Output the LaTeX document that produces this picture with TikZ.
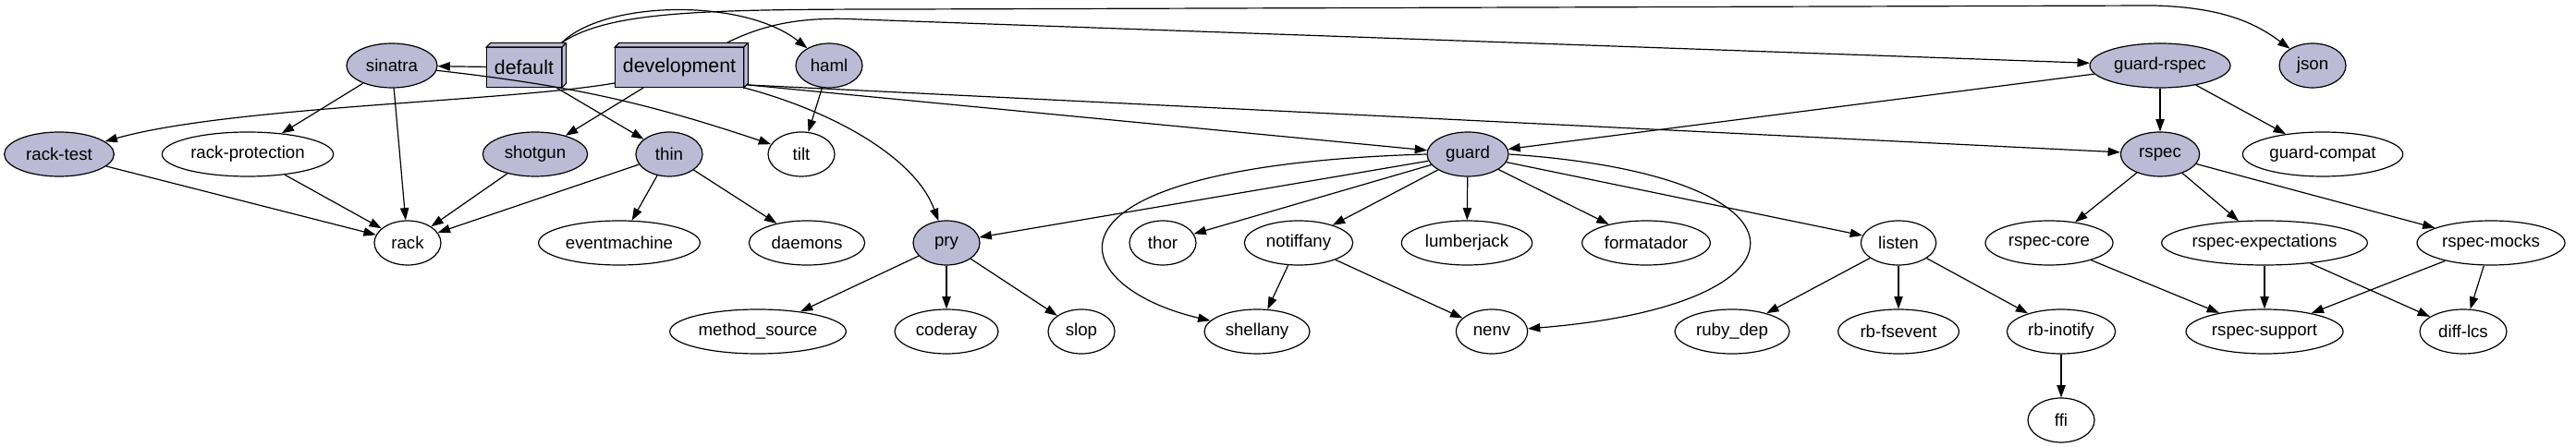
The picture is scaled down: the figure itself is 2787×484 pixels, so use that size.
\documentclass[tikz,border=0pt]{standalone}
\usepackage{fontspec}
\setmainfont{Liberation Sans}
\usetikzlibrary{arrows.meta, shapes.geometric, calc, backgrounds}
\definecolor{gemfill}{HTML}{BBBBD6}
\newcommand{\groupdepth}[1]{%
  \filldraw[grpline] (#1.north west) -- ++(3.5pt,3.5pt) -- ($(#1.north east)+(3.5pt,3.5pt)$)%
    -- ($(#1.south east)+(3.5pt,3.5pt)$) -- (#1.south east) -- (#1.north east) -- cycle;%
  \draw[grpline] (#1.north east) -- ++(3.5pt,3.5pt);%
}

\begin{document}
\begin{tikzpicture}[x=0.75pt, y=0.75pt, font=\fontsize{14}{16}\selectfont]
  \tikzset{el/.style={ellipse, draw, line width=0.9pt, fill=white, minimum height=36pt, inner sep=0pt}};
  \tikzset{gem/.style={el, fill=gemfill}};
  \tikzset{grp/.style={rectangle, draw, fill=gemfill, line width=0.9pt, minimum height=32pt, inner sep=0pt, font=\fontsize{16}{18}\selectfont}};
  \tikzset{grpline/.style={line width=0.9pt, fill=gemfill}};
  \tikzset{dep/.style={-{Triangle[length=10pt, width=7pt]}, line width=0.9pt}};

  \useasboundingbox (0,0) rectangle (2787,-484);

  % groups
  \node[grp, minimum width=60.5pt] (default) at (567,-73) {default};
  \node[grp, minimum width=103.7pt] (development) at (735,-73) {development};
  \groupdepth{default}
  \groupdepth{development}

  % row 1
  \node[gem, minimum width=73.5pt] (sinatra) at (424,-71) {sinatra};
  \node[gem, minimum width=54pt] (haml) at (897,-71) {haml};
  \node[gem, minimum width=114pt] (guardrspec) at (2337,-71) {guard-rspec};
  \node[gem, minimum width=54pt] (json) at (2502,-71) {json};

  % row 2
  \node[gem, minimum width=89pt] (racktest) at (64,-167) {rack-test};
  \node[el, minimum width=139pt] (rackprot) at (268,-167) {rack-protection};
  \node[gem, minimum width=85pt] (shotgun) at (579,-167) {shotgun};
  \node[gem, minimum width=54pt] (thin) at (724,-167) {thin};
  \node[el, minimum width=54pt] (tilt) at (867,-167) {tilt};
  \node[gem, minimum width=66pt] (guard) at (1588,-167) {guard};
  \node[gem, minimum width=64pt] (rspec) at (2337,-167) {rspec};
  \node[el, minimum width=130pt] (guardcompat) at (2513,-167) {guard-compat};

  % row 3
  \node[el, minimum width=54pt] (rack) at (441,-263) {rack};
  \node[el, minimum width=131pt] (eventmachine) at (670,-263) {eventmachine};
  \node[el, minimum width=94pt] (daemons) at (873,-263) {daemons};
  \node[gem, minimum width=54pt] (pry) at (1024,-263) {pry};
  \node[el, minimum width=54pt] (thor) at (1258,-263) {thor};
  \node[el, minimum width=88pt] (notiffany) at (1405,-263) {notiffany};
  \node[el, minimum width=106pt] (lumberjack) at (1587,-263) {lumberjack};
  \node[el, minimum width=104pt] (formatador) at (1781,-263) {formatador};
  \node[el, minimum width=61pt] (listen) at (2054,-263) {listen};
  \node[el, minimum width=103.5pt] (rspeccore) at (2217,-263) {rspec-core};
  \node[el, minimum width=167pt] (rspecexp) at (2450,-263) {rspec-expectations};
  \node[el, minimum width=120pt] (rspecmocks) at (2695,-263) {rspec-mocks};

  % row 4
  \node[el, minimum width=143pt] (methodsource) at (820,-359) {method\_source};
  \node[el, minimum width=84pt] (coderay) at (1024,-359) {coderay};
  \node[el, minimum width=54pt] (slop) at (1170,-359) {slop};
  \node[el, minimum width=85.5pt] (shellany) at (1360,-359) {shellany};
  \node[el, minimum width=58pt] (nenv) at (1614,-359) {nenv};
  \node[el, minimum width=93pt] (rubydep) at (1874,-359) {ruby\_dep};
  \node[el, minimum width=98pt] (rbfsevent) at (2054,-359) {rb-fsevent};
  \node[el, minimum width=88pt] (rbinotify) at (2230,-359) {rb-inotify};
  \node[el, minimum width=127.5pt] (rspecsupport) at (2450,-359) {rspec-support};
  \node[el, minimum width=70.5pt] (difflcs) at (2665,-359) {diff-lcs};

  % row 5
  \node[el, minimum width=54pt] (ffi) at (2230,-455) {ffi};

  % default
  \draw[dep] (default) -- (sinatra);
  \draw[dep] ($(default.south east)+(-6,0)$) -- (thin);
  \draw[dep] ($(default.north east)+(0,5)$) .. controls (655,0) and (805,2) .. (haml);
  \draw[dep] ($(default.north east)+(0,5)$) .. controls (660,-12) and (760,-10) .. (980,-10)
    -- (2330,-6) .. controls (2405,-8) and (2440,-25) .. (json);

  % development
  \draw[dep] ($(development.south west)+(0,5)$) .. controls (550,-110) and (250,-115) .. (racktest);
  \draw[dep] ($(development.south west)+(31,0)$) -- (shotgun);
  \draw[dep] (development.south east) .. controls (900,-120) and (990,-170) .. (pry);
  \draw[dep] ($(development.south east)+(4,3)$) -- (guard);
  \draw[dep] ($(development.south east)+(4,3)$) -- (rspec);
  \draw[dep] ($(development.north east)+(-18,5)$) .. controls (830,-25) and (870,-18) .. (930,-21) -- (guardrspec);

  % sinatra, haml, thin
  \draw[dep] (sinatra) -- (rackprot);
  \draw[dep] (sinatra) -- (rack);
  \draw[dep] (sinatra) to[bend left=6] (tilt);
  \draw[dep] (haml) -- (tilt);
  \draw[dep] (racktest) -- (rack);
  \draw[dep] (rackprot) -- (rack);
  \draw[dep] (shotgun) -- (rack);
  \draw[dep] (thin) -- (rack);
  \draw[dep] (thin) -- (eventmachine);
  \draw[dep] (thin) -- (daemons);

  % pry
  \draw[dep] (pry) -- (methodsource);
  \draw[dep] (pry) -- (coderay);
  \draw[dep] (pry) -- (slop);

  % guard
  \draw[dep] (guard) -- (pry);
  \draw[dep] (guard) -- (thor);
  \draw[dep] (guard) -- (notiffany);
  \draw[dep] (guard) -- (lumberjack);
  \draw[dep] (guard) -- (formatador);
  \draw[dep] (guard) -- (listen);
  \draw[dep] (guard.west) .. controls (1100,-180) and (1150,-310) .. (shellany);
  \draw[dep] (guard.east) .. controls (1975,-190) and (1975,-330) .. (nenv);
  \draw[dep] (notiffany) -- (shellany);
  \draw[dep] (notiffany) -- (nenv);

  % listen
  \draw[dep] (listen) -- (rubydep);
  \draw[dep] (listen) -- (rbfsevent);
  \draw[dep] (listen) -- (rbinotify);
  \draw[dep] (rbinotify) -- (ffi);

  % guard-rspec, rspec
  \draw[dep] (guardrspec) -- (guard);
  \draw[dep] (guardrspec) -- (rspec);
  \draw[dep] (guardrspec) -- (guardcompat);
  \draw[dep] (rspec) -- (rspeccore);
  \draw[dep] (rspec) -- (rspecexp);
  \draw[dep] (rspec) -- (rspecmocks);
  \draw[dep] (rspeccore) -- (rspecsupport);
  \draw[dep] (rspecexp) -- (rspecsupport);
  \draw[dep] (rspecexp) -- (difflcs);
  \draw[dep] (rspecmocks) -- (rspecsupport);
  \draw[dep] (rspecmocks) -- (difflcs);
\end{tikzpicture}
\end{document}
